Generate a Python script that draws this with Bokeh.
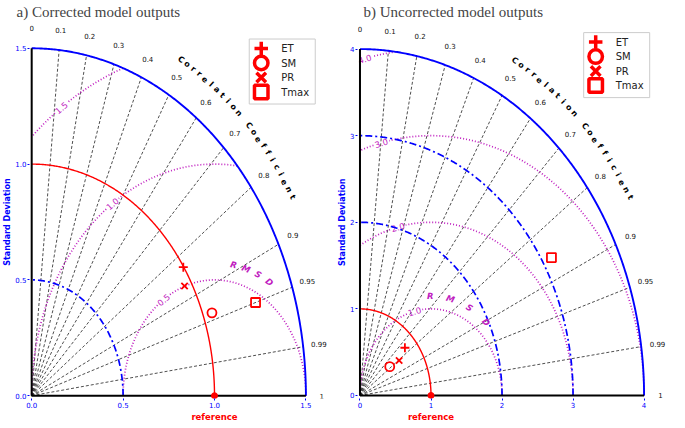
import numpy as np
from bokeh.plotting import figure
from bokeh.layouts import row
from bokeh.models import (LinearAxis, FixedTicker, Range1d, ColumnDataSource,
                          NumeralTickFormatter, BasicTickFormatter, CustomJSTickFormatter)
from bokeh.core.properties import value
from bokeh.embed import file_html
from bokeh.resources import INLINE

# ---------------- data ----------------
models = ["ET", "SM", "PR", "Tmax"]
marker_types = ["cross", "circle", "x", "square"]

# panel a: corrected model outputs (standard deviation, correlation)
a_std = [0.998, 1.049, 0.961, 1.289]
a_corr = [0.831, 0.940, 0.870, 0.950]
# panel b: uncorrected model outputs
b_std = [0.839, 0.535, 0.683, 3.131]
b_corr = [0.754, 0.783, 0.807, 0.861]

ref_std = 1.0
corr_ticks = [0, 0.1, 0.2, 0.3, 0.4, 0.5, 0.6, 0.7, 0.8, 0.9, 0.95, 0.99, 1]
corr_labels = ["0", "0.1", "0.2", "0.3", "0.4", "0.5", "0.6", "0.7", "0.8",
               "0.9", "0.95", "0.99", "1"]

a_std_ticks = [0, 0.5, 1.0, 1.5]
a_std_arcs = [0.5]
a_std_max = 1.5
a_rmsd = [0.5, 1.0, 1.5]
a_rmsd_labels = ["0.5", "1.0", "1.5"]

b_std_ticks = [0, 1, 2, 3, 4]
b_std_arcs = [2, 3]
b_std_max = 4
b_rmsd = [1.0, 2.0, 3.0, 4.0]
b_rmsd_labels = ["1.0", "2.0", "3.0", "4.0"]

title_a = "a) Corrected model outputs"
title_b = "b) Uncorrected model outputs"
ylab = "Standard Deviation"
xlab = "reference"
cc_text = "Correlation Coefficient"
rmsd_text = "RMSD"

FONT = "DejaVu Sans"
BLUE = "#0000ff"
RED = "#ff0000"
MAG = "#c020c0"


def panel(title, std, corr, std_ticks, fmt, dash_arcs, smax, rmsd, rmsd_labels,
          xr, yr, fw, fh, lab_phi, rl_ang, leg_anchor, title_offset):
    sx = fw / (xr[1] - xr[0])
    sy = fh / (yr[1] - yr[0])
    p = figure(frame_width=fw, frame_height=fh, x_range=Range1d(*xr), y_range=Range1d(*yr),
               output_backend="svg", toolbar_location=None, title=title,
               min_border_left=26, min_border_right=0, min_border_top=0, min_border_bottom=0)
    p.grid.visible = False
    p.outline_line_color = None
    p.title.text_font = "Liberation Serif"
    p.title.text_font_size = "15px"
    p.title.text_font_style = "normal"
    p.title.offset = title_offset
    p.title.standoff = 2

    for ax in (p.xaxis[0], p.yaxis[0]):
        ax.ticker = FixedTicker(ticks=std_ticks)
        ax.formatter = fmt()
        ax.axis_line_color = None
        ax.major_tick_line_color = BLUE
        ax.major_tick_out = 2
        ax.major_tick_in = 0
        ax.minor_tick_line_color = None
        ax.major_label_text_color = BLUE
        ax.major_label_text_font = FONT
        ax.major_label_text_font_size = "7px"
        ax.major_label_standoff = 1

    ax2 = LinearAxis(ticker=FixedTicker(ticks=[smax / 2]),
                     formatter=CustomJSTickFormatter(code="return '%s';" % ylab),
                     major_label_orientation="vertical", axis_line_color=None,
                     major_tick_line_color=None, major_tick_out=0, major_tick_in=0,
                     minor_tick_line_color=None, major_label_standoff=0,
                     major_label_text_color=BLUE, major_label_text_font=FONT,
                     major_label_text_font_style="bold", major_label_text_font_size="8px")
    p.add_layout(ax2, "left")
    ax3 = LinearAxis(ticker=FixedTicker(ticks=[ref_std]),
                     formatter=CustomJSTickFormatter(code="return '%s';" % xlab),
                     axis_line_color=None,
                     major_tick_line_color=None, major_tick_out=0, major_tick_in=0,
                     minor_tick_line_color=None, major_label_standoff=1,
                     major_label_text_color=RED, major_label_text_font=FONT,
                     major_label_text_font_style="bold", major_label_text_font_size="8.5px")
    p.add_layout(ax3, "below")

    # correlation rays
    xs, ys = [], []
    for c in corr_ticks[1:-1]:
        th = np.arccos(c)
        xs.append([0, smax * np.cos(th)])
        ys.append([0, smax * np.sin(th)])
    p.multi_line(xs, ys, line_color="#222222", line_width=0.8, line_dash="3 2")

    th = np.linspace(0, np.pi / 2, 300)
    # RMSD contours
    phi = np.linspace(0, np.pi, 1500)
    lx_all, ly_all, la_all = [], [], []
    for R in rmsd:
        x = ref_std + R * np.cos(phi)
        y = R * np.sin(phi)
        ok = (np.hypot(x, y) <= smax * 1.0005) & (x >= 0)
        lx = ref_std + R * np.cos(lab_phi)
        ly = R * np.sin(lab_phi)
        ok &= np.hypot((x - lx) * sx, (y - ly) * sy) > 8
        p.line(np.where(ok, x, np.nan), np.where(ok, y, np.nan), line_color=MAG,
               line_width=1.7, line_dash="1 2")
        lx_all.append(lx)
        ly_all.append(ly)
        la_all.append(np.arctan2(-np.cos(lab_phi) * sy, np.sin(lab_phi) * sx))
    p.text(lx_all, ly_all, text=rmsd_labels, angle=la_all, text_color=MAG,
           text_font=value(FONT), text_font_size="8.5px", text_align="center",
           text_baseline="middle")

    # std arcs
    for s in dash_arcs:
        p.line(s * np.cos(th), s * np.sin(th), line_color=BLUE, line_width=1.7,
               line_dash="7 3 2 3")
    p.line(ref_std * np.cos(th), ref_std * np.sin(th), line_color=RED, line_width=1.4)
    p.line(smax * np.cos(th), smax * np.sin(th), line_color=BLUE, line_width=1.9)

    # axes lines
    p.multi_line([[0, 0], [0, smax]], [[0, smax], [0, 0]], line_color="black", line_width=2)

    # correlation labels
    ct = np.array(corr_ticks)
    rr = 1.058 * smax
    p.text(rr * ct, rr * np.sqrt(1 - ct ** 2), text=corr_labels, text_color="#111111",
           text_font=value(FONT), text_font_size="7px", text_align="center",
           text_baseline="middle")

    # "Correlation Coefficient" along the arc
    ang = np.radians(np.linspace(60.6, 31.0, len(cc_text)))
    rc = 1.11 * smax
    rot = np.arctan2(-np.cos(ang) * sy, np.sin(ang) * sx)
    p.text(rc * np.cos(ang), rc * np.sin(ang), text=list(cc_text), angle=rot,
           text_color="black", text_font=value(FONT), text_font_style="bold",
           text_font_size="8px", text_align="center", text_baseline="middle")

    # "RMSD" letters
    ra = np.radians(rl_ang)
    rm = 1.15 * rmsd[0]
    rot2 = np.arctan2(-np.cos(ra) * sy, np.sin(ra) * sx)
    p.text(ref_std + rm * np.cos(ra), rm * np.sin(ra), text=list(rmsd_text), angle=rot2,
           text_color=MAG, text_font=value(FONT), text_font_style="bold italic",
           text_font_size="8.5px", text_align="center", text_baseline="middle")

    # model markers
    sa = np.array(std)
    ca = np.array(corr)
    src = ColumnDataSource(dict(x=sa * ca, y=sa * np.sqrt(1 - ca ** 2),
                                m=marker_types, name=models))
    p.scatter("x", "y", marker="m", source=src, size=9, line_color=RED,
              line_width=1.8, fill_color=None)
    p.scatter([ref_std], [0], size=6, color=RED)

    # legend (drawn as glyphs)
    bx0, by0 = leg_anchor
    p.quad(left=[bx0], right=[bx0 + 66 / sx], top=[by0], bottom=[by0 - 65 / sy],
           fill_color="white", line_color="#cccccc", line_width=1)
    rows_px = np.array([9.5, 24, 38.5, 53])
    ly = by0 - rows_px / sy
    lsrc = ColumnDataSource(dict(x=[bx0 + 12 / sx] * 4, y=ly, m=marker_types))
    p.scatter("x", "y", marker="m", source=lsrc, size=13.5, line_color=RED,
              line_width=3.5, fill_color=None)
    p.text([bx0 + 32 / sx] * 4, ly, text=models, text_color="#222222",
           text_font=value(FONT), text_font_size="10px", text_align="left",
           text_baseline="middle")
    return p


FH = 378
pa = panel(title_a, a_std, a_corr, a_std_ticks, lambda: NumeralTickFormatter(format="0.0"),
           a_std_arcs, a_std_max, a_rmsd, a_rmsd_labels,
           (-0.012, 1.64), (-0.012, 1.62), 302, FH, np.radians(124),
           np.linspace(79.5, 58.5, 4), (1.19, 1.54), -13)
pb = panel(title_b, b_std, b_corr, b_std_ticks, BasicTickFormatter,
           b_std_arcs, b_std_max, b_rmsd, b_rmsd_labels,
           (-0.035, 4.33), (-0.035, 4.33), 310, FH, np.radians(103.5),
           np.linspace(90.5, 47.5, 4), (3.15, 4.19), 6)

layout = row(pa, pb)
open("out.html", "w").write(file_html(layout, INLINE))
